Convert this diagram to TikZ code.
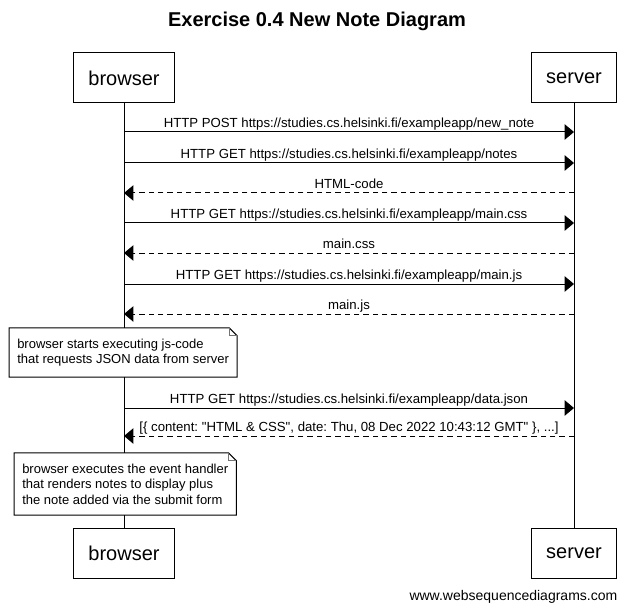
\documentclass[tikz,border=0pt]{standalone}
\usepackage{fontspec}
\setmainfont{Liberation Sans}
\usetikzlibrary{positioning,calc,arrows.meta}
\frenchspacing

\tikzset{
  actor/.style={draw, fill=white, line width=0.75pt, inner xsep=11.25pt, minimum height=37.5pt, font=\fontsize{15}{18}\selectfont},
  lifeline/.style={line width=0.75pt},
  req/.style={line width=0.75pt, -{Triangle[length=7pt,width=11.5pt]}},
  resp/.style={req, dash pattern=on 4pt off 3pt},
  msglbl/.style={above, inner sep=1pt, text height=7pt, text depth=2pt, font=\fontsize{9.9}{11.6}\selectfont},
  notebox/.style={fill=white, align=left, inner xsep=6pt, inner ysep=8pt, font=\fontsize{9.75}{11.6}\selectfont},
}
% note outline with folded corner
\newcommand\dogear[1]{%
  \draw[line width=0.75pt] (#1.south west) -- (#1.south east) -- ($(#1.north east)+(0,8)$)
    -- ($(#1.north east)+(-8,0)$) -- (#1.north west) -- cycle;
  \draw[line width=0.5pt, black!55] ($(#1.north east)+(-8,0)$) |- ($(#1.north east)+(0,8)$);
}

\begin{document}
\begin{tikzpicture}[x=0.75pt, y=-0.75pt]
\useasboundingbox (0,0) rectangle (632,613);

\node[font=\fontsize{15}{18}\selectfont\bfseries] (title) at (317,21) {Exercise 0.4 New Note Diagram};

% participants
\node[actor] (btop) at (124,78) {browser};
\node[actor] (stop) at (574,78) {server};
\node[actor] (bbot) at (124,553) {browser};
\node[actor] (sbot) at (574,553) {server};
\draw[lifeline] (btop) -- (bbot);
\draw[lifeline] (stop) -- (sbot);

% message rows
\foreach \i/\y in {1/132,2/163,3/193,4/223,5/253,6/284,7/314,8/408,9/436}{
  \coordinate (b\i) at (124,\y);
  \coordinate (s\i) at (574,\y);
}
\draw[req] (b1) -- node[msglbl]{HTTP POST https://studies.cs.helsinki.fi/exampleapp/new\_note} (s1);
\draw[req] (b2) -- node[msglbl]{HTTP GET https://studies.cs.helsinki.fi/exampleapp/notes} (s2);
\draw[resp] (s3) -- node[msglbl]{HTML-code} (b3);
\draw[req] (b4) -- node[msglbl]{HTTP GET https://studies.cs.helsinki.fi/exampleapp/main.css} (s4);
\draw[resp] (s5) -- node[msglbl]{main.css} (b5);
\draw[req] (b6) -- node[msglbl]{HTTP GET https://studies.cs.helsinki.fi/exampleapp/main.js} (s6);
\draw[resp] (s7) -- node[msglbl]{main.js} (b7);
\draw[req] (b8) -- node[msglbl]{HTTP GET https://studies.cs.helsinki.fi/exampleapp/data.json} (s8);
\draw[resp] (s9) -- node[msglbl]{[\{ content: \textquotedbl HTML \& CSS\textquotedbl, date: Thu, 08 Dec 2022 10:43:12 GMT\textquotedbl{} \}, ...]} (b9);

% notes
\node[notebox, anchor=west] (jsnote) at (9,352.5) {browser starts executing js-code\\that requests JSON data from server};
\dogear{jsnote}
\node[notebox, anchor=west] (rendernote) at (14,484) {browser executes the event handler\\that renders notes to display plus\\the note added via the submit form};
\dogear{rendernote}

\node[anchor=east, font=\fontsize{10.5}{12}\selectfont] (wsd) at (622,597) {www.websequencediagrams.com};
\end{tikzpicture}
\end{document}
